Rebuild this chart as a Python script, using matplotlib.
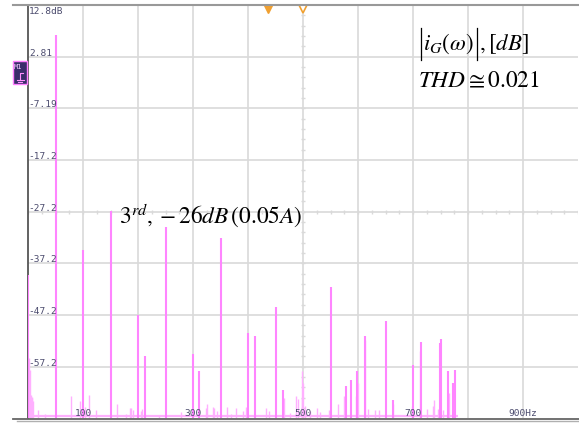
import numpy as np
import matplotlib
matplotlib.use('Agg')
from matplotlib import pyplot as plt
from matplotlib.lines import Line2D
from matplotlib.patches import Rectangle

W, H = 579, 423

# spectral lines: frequency [Hz], level [dB]
main_freq = [0, 50, 100, 150, 200, 213, 250, 300, 311, 350, 400, 413, 450, 463,
             550, 578, 588, 599, 613, 650, 664, 700, 714, 749, 751, 763, 773, 776]
main_db = [-39.4, 7.0, -34.6, -27.0, -47.2, -55.1, -30.2, -54.8, -58.0, -32.3, -50.6, -51.2, -45.6, -61.7,
           -41.8, -61.0, -59.8, -58.1, -51.2, -48.4, -63.6, -56.8, -52.5, -52.6, -51.9, -58.1, -60.4, -57.8]

# small components and leakage
minor_freq = [1.3, 3, 5, 6.5, 8, 9, 19, 30, 78, 95, 104, 110, 124, 161, 179, 185, 188, 191,
              205, 208, 239, 279, 323, 326, 337, 339, 344, 362, 369, 379, 390, 396, 432, 438,
              465, 476, 487, 490, 498, 499, 500, 504, 513, 526, 530, 547, 563, 575, 596, 600,
              612, 618, 630, 639, 663, 698, 713, 725, 737, 739, 745, 755, 765]
minor_db = [-55.5, -57.8, -62.6, -63.0, -63.2, -63.8, -65.6, -66.4, -62.8, -63.8, -65.0, -62.7, -65.6,
            -64.5, -66.4, -65.2, -65.2, -65.6, -65.7, -65.4, -66.5, -65.9, -65.2, -64.5, -65.0, -65.2,
            -65.8, -64.9, -66.3, -65.2, -65.7, -65.0, -65.1, -65.8, -63.3, -66.2, -62.9, -63.5, -63.3,
            -58.1, -60.4, -64.8, -65.7, -65.2, -65.9, -65.6, -64.5, -62.9, -62.9, -60.4, -52.0, -65.3,
            -65.6, -65.6, -64.5, -64.8, -54.1, -65.4, -64.8, -63.6, -65.4, -65.6, -62.3]

noise_floor_db = -66.8
band_end_hz = 782

x_grid = [100, 200, 300, 400, 500, 600, 700, 800, 900]
x_labels = {100: '100', 300: '300', 500: '500', 700: '700', 900: '900Hz'}
y_grid = [12.8, 2.81, -7.19, -17.2, -27.2, -37.2, -47.2, -57.2]
y_labels = ['12.8dB', '2.81', '-7.19', '-17.2', '-27.2', '-37.2', '-47.2', '-57.2']
y_min = -67.2

PINK = '#ff85ff'
PINK_LIGHT = '#ffb0ff'
GRID = '#d9d9d9'
LABEL = '#4c4c6e'

plt.rcParams['mathtext.fontset'] = 'stix'


def fx(x):
    return x / W


def fy(y):
    return 1 - y / H


fig = plt.figure(figsize=(W / 100, H / 100), dpi=100)
ax = fig.add_axes([fx(28), fy(418.4), 550 / W, 413.4 / H])
ax.set_xlim(0, 1000)
ax.set_ylim(y_min, 12.8)
ax.set_xticks(x_grid)
ax.set_yticks(y_grid)
ax.grid(True, color=GRID, lw=1.2)
ax.tick_params(length=0, labelbottom=False, labelleft=False)
for s in ['top', 'right', 'bottom']:
    ax.spines[s].set_visible(False)
ax.spines['left'].set_color('#555555')
ax.spines['left'].set_linewidth(1.3)

# centre cross with minor ticks
ax.hlines(np.arange(y_min, 12.9, 2.0), 500 - 3.6, 500 + 3.6, color=GRID, lw=1.0)
ax.vlines(np.arange(0, 1001, 25), -27.2 - 0.4, -27.2 + 0.4, color=GRID, lw=1.0)

# spectrum
ax.hlines(noise_floor_db, 0, band_end_hz, color=PINK_LIGHT, lw=1.6, zorder=3)
ax.vlines(minor_freq, y_min, minor_db, color=PINK_LIGHT, lw=1.0, zorder=3)
ax.vlines(main_freq, y_min, main_db, color=PINK, lw=1.5, zorder=4)

# scope-style labels inside the grid
mono = dict(family='DejaVu Sans Mono', fontsize=6.8, color=LABEL)
for v, lab in zip(y_grid, y_labels):
    yy = 11.1 if lab.endswith('dB') else v + 0.2
    ax.text(1.5, yy, lab, ha='left', va='baseline', zorder=5, **mono)
for v, lab in x_labels.items():
    ax.text(v, -66.8, lab, ha='center', va='baseline', zorder=5, **mono)

# trigger markers at the top
ax.plot([436], [12.1], marker='v', ms=5.5, color='#f0a030', clip_on=False, zorder=6)
ax.plot([500], [12.1], marker='v', ms=5.5, mfc='white', mec='#f0a030', mew=1.2, clip_on=False, zorder=6)

# annotations (absolute value bars drawn tall, as in the figure)
fig.text(fx(423), fy(44), r'$i_G(\omega)$', fontsize=16.5, ha='left', va='center')
fig.text(fx(479), fy(44), r'$,[dB]$', fontsize=16.5, ha='left', va='center')
for bx in (420.5, 477.0):
    fig.add_artist(Line2D([fx(bx), fx(bx)], [fy(28), fy(60)], color='black', lw=0.9))
fig.text(fx(418), fy(81), r'$THD \cong 0.021$', fontsize=16.8, ha='left', va='center')
fig.text(fx(119), fy(216), r'$3^{rd}, -26dB\,(0.05A)$', fontsize=16.8, ha='left', va='center')

# frame lines of the screen
fig.add_artist(Line2D([fx(13), 1], [fy(5), fy(5)], color='#999999', lw=1.5))
fig.add_artist(Line2D([fx(13), 1], [fy(418.5), fy(418.5)], color='#666666', lw=1.3))
fig.add_artist(Line2D([fx(17), 1], [fy(421), fy(421)], color='#b0b0b0', lw=1.0))

# channel badge
fig.add_artist(Rectangle((fx(12.7), fy(84)), 14 / W, 23 / H, facecolor='#3a2d6b',
                         edgecolor='#ff80ff', lw=1.0))
fig.text(fx(14), fy(67), 'M1', family='DejaVu Sans Mono', fontsize=5, color='#f0c8ff',
         ha='left', va='center')
fig.add_artist(Line2D([fx(20), fx(20), fx(23)], [fy(80), fy(73), fy(73)], color='#ff90ff', lw=0.8))
fig.add_artist(Line2D([fx(16.5), fx(23.5)], [fy(80), fy(80)], color='#ff90ff', lw=0.8))
fig.add_artist(Line2D([fx(18), fx(22)], [fy(82), fy(82)], color='#ff90ff', lw=0.8))

fig.savefig('out.png', dpi=100)
